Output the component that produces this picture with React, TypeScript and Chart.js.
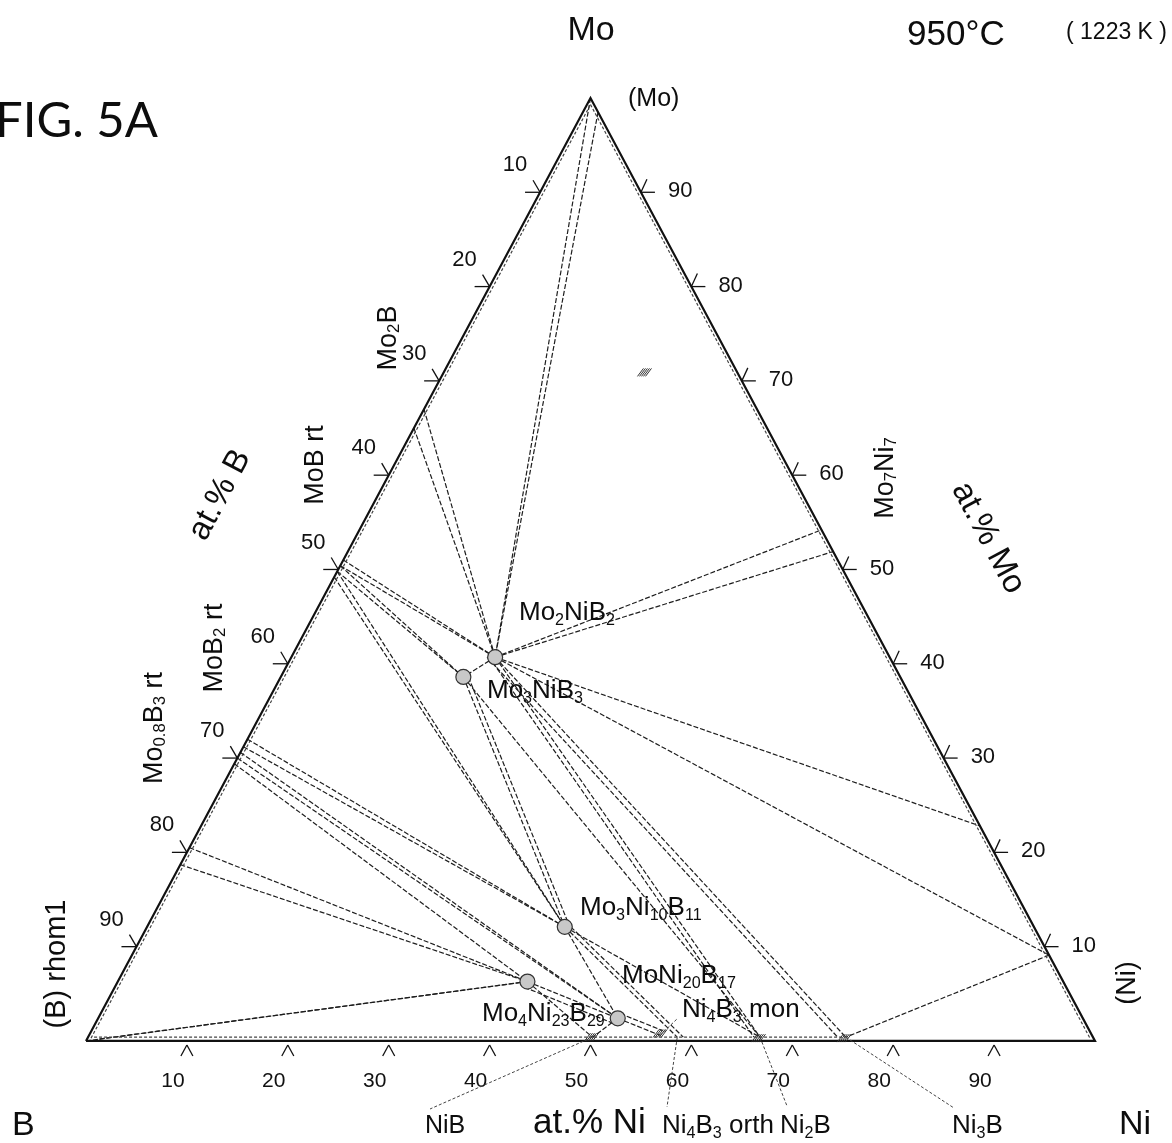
import { useEffect, useRef } from "react";
import { Chart, registerables } from "chart.js";

Chart.register(...registerables);

const WIDTH = 1172;
const HEIGHT = 1143;
const FONT = '"Liberation Sans", Arial, sans-serif';

// Phase points on the binary edges, in at.% as [id, Ni, Mo]; B is the balance.
const binaryPhases: [string, number, number][] = [
  ["(Mo)", 0, 100],
  ["(Mo)'", 1.5, 98.5],
  ["Mo2B", 0, 67.0],
  ["Mo2B'", 0, 65.0],
  ["MoB", 0, 51.0],
  ["MoB'", 0, 50.4],
  ["MoB''", 0, 49.8],
  ["MoB'''", 0, 49.2],
  ["MoB2", 0, 32.0],
  ["MoB2'", 0, 31.2],
  ["MoB2''", 0, 30.6],
  ["MoB2'''", 0, 30.0],
  ["MoB2''''", 0, 29.4],
  ["Mo0.8B3", 0, 20.5],
  ["Mo0.8B3'", 0, 18.7],
  ["(B)", 0, 0],
  ["(B)'", 1.2, 0.2],
  ["NiB", 50.0, 0.4],
  ["Ni4B3 mon", 56.6, 0.6],
  ["Ni4B3 orth", 58.4, 0.4],
  ["Ni2B", 66.6, 0.4],
  ["Ni3B", 75.1, 0.4],
  ["Mo7Ni7", 45.8, 54.2],
  ["Mo7Ni7'", 48.1, 51.9],
  ["MoNi4", 77.2, 22.8],
  ["(Ni)", 90.9, 9.1],
];

// Ternary compounds
const compoundIds = ["Mo2NiB2", "Mo3NiB3", "Mo3Ni10B11", "Mo4Ni23B29", "MoNi20B17"];
const compoundNi = [20.2, 18.1, 41.4, 40.6, 51.5];
const compoundMo = [40.7, 38.6, 12.1, 6.3, 2.4];

// Boundaries of the two-phase fields: [from, to, Ni shift, Mo shift]
const tieLines: [string, string, number, number][] = [
  ["(Mo)", "Mo2NiB2", 0, 0],
  ["(Mo)'", "Mo2NiB2", 0, 0],
  ["Mo2B", "Mo2NiB2", 0, 0],
  ["Mo2B'", "Mo2NiB2", 0, 0],
  ["Mo2NiB2", "Mo7Ni7", 0, 0],
  ["Mo2NiB2", "Mo7Ni7'", 0, 0],
  ["Mo2NiB2", "MoNi4", 0, 0],
  ["Mo2NiB2", "(Ni)", 0, 0],
  ["(Ni)", "Ni3B", 0, 0],
  ["Mo2NiB2", "Ni3B", 0, 0],
  ["Mo2NiB2", "Ni3B", -0.8, 0],
  ["Mo2NiB2", "Ni2B", 0, 0],
  ["Mo2NiB2", "Ni2B", -0.6, 0],
  ["MoB", "Mo2NiB2", 0, 0],
  ["MoB'", "Mo2NiB2", 0, 0],
  ["Mo2NiB2", "Mo3NiB3", 0, 0],
  ["MoB'", "Mo3NiB3", 0, 0],
  ["MoB''", "Mo3NiB3", 0, 0],
  ["MoB''", "Mo3Ni10B11", 0, 0],
  ["MoB'''", "Mo3Ni10B11", 0, 0],
  ["Mo3NiB3", "Mo3Ni10B11", 0, 0],
  ["Mo3NiB3", "Mo3Ni10B11", 0.5, 0],
  ["Mo3NiB3", "Ni2B", 0, 0],
  ["Mo3Ni10B11", "Ni2B", 0, 0],
  ["Mo3Ni10B11", "Ni4B3 orth", 0, 0],
  ["Mo3Ni10B11", "Ni4B3 orth", 0.6, 0],
  ["Mo3Ni10B11", "MoNi20B17", 0, 0],
  ["MoNi20B17", "Ni4B3 mon", 0, 0],
  ["MoNi20B17", "Ni4B3 mon", 0, 0.5],
  ["MoB2", "Mo3Ni10B11", 0, 0],
  ["MoB2'", "Mo3Ni10B11", 0, 0],
  ["MoB2''", "MoNi20B17", 0, 0],
  ["MoB2'''", "MoNi20B17", 0, 0],
  ["MoB2''''", "Mo4Ni23B29", 0, 0],
  ["Mo0.8B3", "Mo4Ni23B29", 0, 0],
  ["Mo0.8B3'", "Mo4Ni23B29", 0, 0],
  ["(B)", "Mo4Ni23B29", 0, 0],
  ["(B)'", "Mo4Ni23B29", 0, 0],
  ["Mo4Ni23B29", "MoNi20B17", 0, 0],
  ["Mo4Ni23B29", "MoNi20B17", 0, -0.6],
  ["Mo4Ni23B29", "NiB", 0, 0],
  ["MoNi20B17", "NiB", 0, 0],
];

// Solubility limits running just inside the three binary edges: [Ni, Mo] pairs
const edgeSolvusStart: [number, number][] = [[0.35, 0.3], [0.35, 99.3], [0.6, 0.4]];
const edgeSolvusEnd: [number, number][] = [[0.35, 99.3], [99.3, 0.35], [75.1, 0.4]];

// Small hatched spots: [Ni, Mo]
const hatchSpots: [number, number][] = [[20.0, 70.9], [50.0, 0.4], [56.6, 0.8], [66.6, 0.3], [75.1, 0.3]];

const tickValues = [10, 20, 30, 40, 50, 60, 70, 80, 90];

const toXY = (ni: number, mo: number) => ({ x: ni + mo / 2, y: mo });

type Part = { t: string; sub: boolean };
function parseRich(s: string): Part[] {
  const out: Part[] = [];
  let buf = "";
  let i = 0;
  while (i < s.length) {
    if (s[i] === "_" && s[i + 1] === "{") {
      if (buf) out.push({ t: buf, sub: false });
      buf = "";
      const j = s.indexOf("}", i);
      out.push({ t: s.slice(i + 2, j), sub: true });
      i = j + 1;
    } else {
      buf += s[i];
      i++;
    }
  }
  if (buf) out.push({ t: buf, sub: false });
  return out;
}

function drawRich(
  ctx: CanvasRenderingContext2D,
  s: string,
  x: number,
  y: number,
  size: number,
  align: "left" | "center" = "left",
  family: string = FONT
) {
  const parts = parseRich(s);
  const widths = parts.map((p) => {
    ctx.font = `${p.sub ? size * 0.62 : size}px ${family}`;
    return ctx.measureText(p.t).width;
  });
  const total = widths.reduce((a, b) => a + b, 0);
  let cx = align === "center" ? x - total / 2 : x;
  ctx.textAlign = "left";
  parts.forEach((p, k) => {
    ctx.font = `${p.sub ? size * 0.62 : size}px ${family}`;
    ctx.fillText(p.t, cx, p.sub ? y + size * 0.2 : y);
    cx += widths[k];
  });
}

function drawRotated(ctx: CanvasRenderingContext2D, s: string, cx: number, cy: number, size: number, deg: number) {
  ctx.save();
  ctx.translate(cx, cy);
  ctx.rotate((deg * Math.PI) / 180);
  ctx.textBaseline = "middle";
  drawRich(ctx, s, 0, 0, size, "center");
  ctx.restore();
}

const decorPlugin = {
  id: "ternaryDecor",
  afterDatasetsDraw(chart: any) {
    const ctx: CanvasRenderingContext2D = chart.ctx;
    const xs = chart.scales.x;
    const ys = chart.scales.y;
    const P = (ni: number, mo: number) => ({ x: xs.getPixelForValue(ni + mo / 2), y: ys.getPixelForValue(mo) });
    ctx.save();
    ctx.strokeStyle = "#111";
    ctx.fillStyle = "#111";
    ctx.lineWidth = 1.3;
    ctx.setLineDash([]);

    const seg = (x1: number, y1: number, x2: number, y2: number) => {
      ctx.beginPath();
      ctx.moveTo(x1, y1);
      ctx.lineTo(x2, y2);
      ctx.stroke();
    };

    // axis ticks and their numbers
    ctx.textBaseline = "middle";
    for (const t of tickValues) {
      const b = P(t, 0);
      seg(b.x - 6, b.y + 15, b.x, b.y + 4);
      seg(b.x, b.y + 4, b.x + 6, b.y + 15);
      drawRich(ctx, String(t), b.x - 14, b.y + 40, 21, "center");

      const l = P(0, 100 - t);
      seg(l.x, l.y, l.x - 15, l.y);
      seg(l.x, l.y, l.x - 7, l.y - 12);
      drawRich(ctx, String(t), l.x - 25, l.y - 27, 22, "center");

      const r = P(100 - t, t);
      seg(r.x, r.y, r.x + 14, r.y);
      seg(r.x, r.y, r.x + 6, r.y - 13);
      drawRich(ctx, String(t), r.x + 27, r.y - 1, 22, "left");
    }

    // hatched spots
    ctx.lineWidth = 1;
    ctx.strokeStyle = "#333";
    for (const [ni, mo] of hatchSpots) {
      const p = P(ni, mo);
      for (let k = -2; k <= 2; k++) seg(p.x - 4 + k * 2, p.y + 4, p.x + 2 + k * 2, p.y - 4);
    }

    // leader lines to the boride labels under the base
    ctx.setLineDash([3, 2]);
    ctx.strokeStyle = "#444";
    const nodes = new Map(binaryPhases.map(([id, ni, mo]) => [id, P(ni, mo)]));
    const lead = (id: string, x: number, y: number) => {
      const p = nodes.get(id)!;
      seg(p.x, p.y, x, y);
    };
    lead("NiB", 430, 1109);
    lead("Ni4B3 orth", 667, 1107);
    lead("Ni2B", 787, 1106);
    lead("Ni3B", 954, 1108);
    lead("Ni4B3 mon", 678, 1018);
    ctx.setLineDash([]);

    // text
    ctx.textBaseline = "alphabetic";
    ctx.fillStyle = "#0d0d0d";
    drawRich(ctx, "FIG. 5A", -5, 137, 49, "left", "Lato, sans-serif");
    drawRich(ctx, "Mo", 591, 40, 34, "center");
    drawRich(ctx, "950°C", 907, 45, 35, "left");
    drawRich(ctx, "( 1223 K )", 1066, 39, 23, "left");
    drawRich(ctx, "(Mo)", 628, 106, 25, "left");

    drawRich(ctx, "Mo_{2}NiB_{2}", 519, 620, 26);
    drawRich(ctx, "Mo_{3}NiB_{3}", 487, 698, 26);
    drawRich(ctx, "Mo_{3}Ni_{10}B_{11}", 580, 915, 26);
    drawRich(ctx, "MoNi_{20}B_{17}", 622, 983, 26);
    drawRich(ctx, "Mo_{4}Ni_{23}B_{29}", 482, 1021, 26);
    drawRich(ctx, "Ni_{4}B_{3} mon", 682, 1017, 26);

    drawRich(ctx, "NiB", 425, 1133, 25);
    drawRich(ctx, "at.% Ni", 533, 1133, 35);
    drawRich(ctx, "Ni_{4}B_{3} orth", 662, 1133, 26);
    drawRich(ctx, "Ni_{2}B", 780, 1133, 26);
    drawRich(ctx, "Ni_{3}B", 952, 1133, 26);
    drawRich(ctx, "B", 12, 1135, 34);
    drawRich(ctx, "Ni", 1119, 1134, 34);

    drawRotated(ctx, "Mo_{2}B", 389, 338, 27, -90);
    drawRotated(ctx, "MoB rt", 316, 465, 27, -90);
    drawRotated(ctx, "MoB_{2} rt", 215, 648, 27, -90);
    drawRotated(ctx, "Mo_{0.8}B_{3} rt", 155, 728, 27, -90);
    drawRotated(ctx, "(B) rhom1", 57, 964, 29, -90);
    drawRotated(ctx, "Mo_{7}Ni_{7}", 886, 478, 27, -90);
    drawRotated(ctx, "(Ni)", 1128, 983, 27, -90);

    drawRotated(ctx, "at.% B", 220, 495, 33, -62);
    drawRotated(ctx, "at.% Mo", 988, 538, 33, 62);
    ctx.restore();
  },
};

export default function App() {
  const ref = useRef<HTMLCanvasElement>(null);

  useEffect(() => {
    const canvas = ref.current;
    if (!canvas) return;
    const nodes = new Map<string, [number, number]>();
    binaryPhases.forEach(([id, ni, mo]) => nodes.set(id, [ni, mo]));
    compoundIds.forEach((id, i) => nodes.set(id, [compoundNi[i], compoundMo[i]]));

    const tieStyle = {
      showLine: true,
      pointRadius: 0,
      borderColor: "#1e1e1e",
      borderWidth: 1.2,
      borderDash: [5, 2],
      fill: false,
      order: 2,
    };

    const datasets: any[] = [];

    // compounds on top
    datasets.push({
      data: compoundIds.map((_, i) => toXY(compoundNi[i], compoundMo[i])),
      showLine: false,
      pointRadius: 7.5,
      pointBackgroundColor: "#c8c8c8",
      pointBorderColor: "#333",
      pointBorderWidth: 1.2,
      order: 0,
    });

    // triangle
    datasets.push({
      data: [toXY(0, 0), toXY(100, 0), toXY(0, 100), toXY(0, 0)],
      showLine: true,
      pointRadius: 0,
      borderColor: "#111",
      borderWidth: 2.2,
      fill: false,
      order: 1,
    });

    edgeSolvusStart.forEach((s, i) => {
      const e = edgeSolvusEnd[i];
      datasets.push({ ...tieStyle, borderDash: [3, 2], borderColor: "#444", data: [toXY(s[0], s[1]), toXY(e[0], e[1])] });
    });

    tieLines.forEach(([a, b, dNi, dMo]) => {
      const [n1, m1] = nodes.get(a)!;
      const [n2, m2] = nodes.get(b)!;
      datasets.push({ ...tieStyle, data: [toXY(n1 + dNi, m1 + dMo), toXY(n2 + dNi, m2 + dMo)] });
    });

    const chart = new Chart(canvas, {
      type: "scatter",
      data: { datasets },
      options: {
        responsive: false,
        animation: false,
        devicePixelRatio: 1,
        layout: { padding: 0, autoPadding: false },
        plugins: { legend: { display: false }, tooltip: { enabled: false }, title: { display: false } },
        scales: {
          x: { type: "linear", min: -8.523, max: 107.633, display: false },
          y: { type: "linear", min: -10.82, max: 110.39, display: false },
        },
      },
      plugins: [decorPlugin],
    });
    return () => chart.destroy();
  }, []);

  return (
    <div style={{ position: "absolute", left: 0, top: 0, width: WIDTH, height: HEIGHT, background: "#fff" }}>
      <canvas ref={ref} width={WIDTH} height={HEIGHT} style={{ display: "block" }} />
    </div>
  );
}
